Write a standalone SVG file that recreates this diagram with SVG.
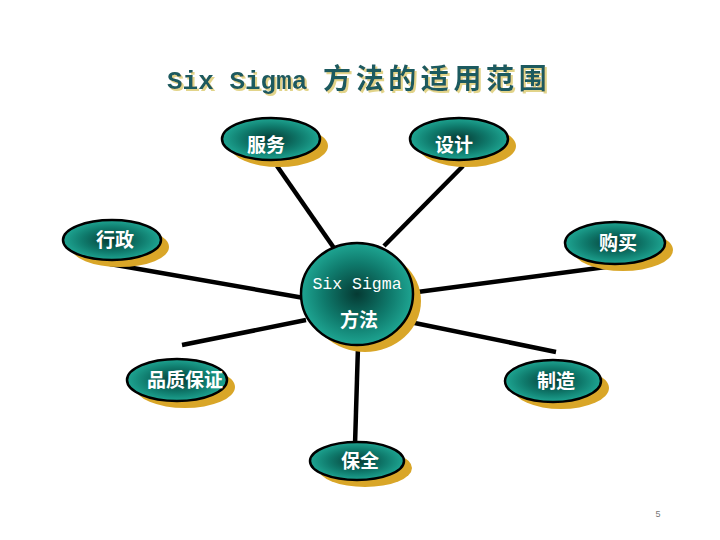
<svg xmlns="http://www.w3.org/2000/svg" width="720" height="540" viewBox="0 0 720 540">
<defs>
<radialGradient id="g" cx="0.5" cy="0.5" r="0.5">
<stop offset="0" stop-color="#053a33"/>
<stop offset="0.6" stop-color="#0f7a6c"/>
<stop offset="1" stop-color="#1ea592"/>
</radialGradient>
<filter id="ts" x="-5%" y="-20%" width="110%" height="150%">
<feDropShadow dx="2" dy="2" stdDeviation="0.6" flood-color="#e2d48a" flood-opacity="1"/>
</filter>
<style>
.sh{fill:#d9a628}
.el{fill:url(#g);stroke:#000;stroke-width:2.5}
.lb{font-family:"Noto Sans CJK SC","Noto Sans",sans-serif;font-weight:bold;font-size:19px;fill:#fff;text-anchor:middle}
.mono{font-family:"Liberation Mono","DejaVu Sans Mono",monospace}
.cn{stroke:#000;stroke-width:4.5;stroke-linecap:butt;fill:none}
.title{font-size:26px;fill:#1e5a5f;font-weight:bold}
</style>
</defs>
<rect width="720" height="540" fill="#fff"/>
<g id="title" filter="url(#ts)">
<text x="167" y="89" class="mono title">Six Sigma <tspan font-family="Noto Sans CJK SC,sans-serif" font-size="28" letter-spacing="4.6">方法的适用范围</tspan></text>
</g>
<g id="connectors">
<line class="cn" x1="277" y1="166" x2="334" y2="248"/>
<line class="cn" x1="463" y1="166" x2="384" y2="246"/>
<line class="cn" x1="110" y1="264" x2="304" y2="298"/>
<line class="cn" x1="410" y1="293" x2="621" y2="265"/>
<line class="cn" x1="182" y1="345" x2="306" y2="320"/>
<line class="cn" x1="400" y1="320" x2="556" y2="352"/>
<line class="cn" x1="358" y1="346" x2="355" y2="445"/>
</g>
<g id="node-fuwu">
<ellipse class="sh" cx="279" cy="146" rx="49" ry="21"/>
<ellipse class="el" cx="271" cy="139" rx="49" ry="21"/>
<text class="lb" x="266" y="152">服务</text>
</g>
<g id="node-sheji">
<ellipse class="sh" cx="467" cy="146" rx="49" ry="21"/>
<ellipse class="el" cx="459" cy="139" rx="49" ry="21"/>
<text class="lb" x="454" y="152">设计</text>
</g>
<g id="node-xingzheng">
<ellipse class="sh" cx="120" cy="247" rx="49" ry="20"/>
<ellipse class="el" cx="112" cy="240" rx="49" ry="20"/>
<text class="lb" x="115" y="247">行政</text>
</g>
<g id="node-goumai">
<ellipse class="sh" cx="623" cy="250" rx="50" ry="21"/>
<ellipse class="el" cx="615" cy="243" rx="50" ry="21"/>
<text class="lb" x="618" y="250">购买</text>
</g>
<g id="node-center">
<ellipse class="sh" cx="365" cy="301" rx="56" ry="51"/>
<ellipse class="el" cx="357" cy="294" rx="56" ry="51"/>
<text class="mono" x="357" y="289" font-size="16.5" fill="#fff" text-anchor="middle">Six Sigma</text>
<text class="lb" x="359" y="327">方法</text>
</g>
<g id="node-pinzhi">
<ellipse class="sh" cx="185" cy="387" rx="50" ry="21"/>
<ellipse class="el" cx="177" cy="380" rx="50" ry="21"/>
<text class="lb" x="185" y="387">品质保证</text>
</g>
<g id="node-zhizao">
<ellipse class="sh" cx="561" cy="388" rx="48" ry="21"/>
<ellipse class="el" cx="553" cy="381" rx="48" ry="21"/>
<text class="lb" x="556" y="388">制造</text>
</g>
<g id="node-baoquan">
<ellipse class="sh" cx="365" cy="468" rx="47" ry="19"/>
<ellipse class="el" cx="357" cy="461" rx="47" ry="19"/>
<text class="lb" x="360" y="468">保全</text>
</g>
<text x="658" y="517" font-family="Liberation Sans,sans-serif" font-size="9" fill="#777" text-anchor="middle">5</text>
</svg>
